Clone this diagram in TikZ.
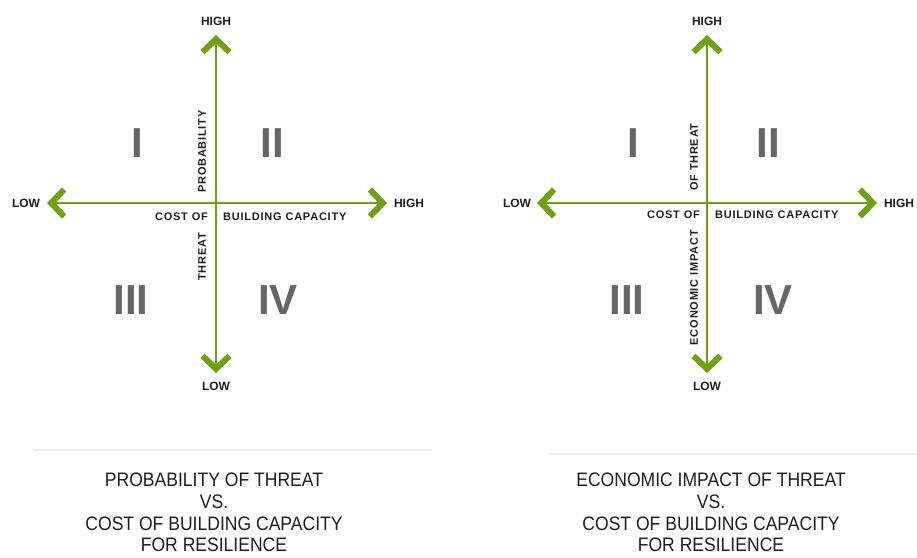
\documentclass[tikz,border=0pt]{standalone}
\usepackage{fontspec}
\setmainfont{Liberation Sans}
\newfontfamily\capfont[FakeStretch=0.9]{Liberation Sans}
\usepackage{xcolor}
\usetikzlibrary{arrows.meta,positioning}
\definecolor{axisgreen}{RGB}{112,160,20}
\definecolor{numgray}{RGB}{102,102,102}
\definecolor{labelgray}{RGB}{30,30,30}
\definecolor{rulegray}{RGB}{236,236,236}

\begin{document}
\begin{tikzpicture}[
    x=1pt, y=-1pt,
    axis/.style={draw=axisgreen, line width=2.5pt,
        >={Straight Barb[length=13pt,width=27pt,line width=6pt]}, <->},
    endlabel/.style={font=\fontsize{12}{14}\selectfont\bfseries, text=labelgray, inner sep=0pt},
    axislabel/.style={font=\fontsize{11}{13}\selectfont\bfseries\addfontfeatures{LetterSpace=7},
        text=labelgray, inner sep=0pt},
    quadrant/.style={font=\fontsize{42}{44}\selectfont\bfseries, text=numgray, inner sep=0pt},
    caption/.style={font=\capfont\fontsize{19.5}{21.7}\selectfont, text=labelgray,
        align=center, inner sep=0pt},
    rule/.style={draw=rulegray, line width=1.5pt}
]
    \useasboundingbox (0,0) rectangle (917,557);

    % left chart: probability
    \coordinate (lN) at (216,35);
    \coordinate (lS) at (216,373);
    \coordinate (lW) at (47,203);
    \coordinate (lE) at (387,203);
    \draw[axis] (lW) -- (lE);
    \draw[axis] (lS) -- (lN);

    \node[endlabel] (lhigh) at (216,21) {HIGH};
    \node[endlabel] (llow) at (216,386) {LOW};
    \node[endlabel] (lleft) at (26,203) {LOW};
    \node[endlabel] (lright) at (409,203) {HIGH};

    \node[axislabel, anchor=east] (lcost) at (208,217) {COST OF};
    \node[axislabel, anchor=west] (lbuild) at (223,217) {BUILDING CAPACITY};
    \node[axislabel, rotate=90, anchor=west] (lprob) at (202,193) {PROBABILITY};
    \node[axislabel, rotate=90, anchor=east] (lthreat) at (202,233) {THREAT};

    \node[quadrant] (lq1) at (137,143) {I};
    \node[quadrant] (lq2) at (272,143) {II};
    \node[quadrant] (lq3) at (131,300) {III};
    \node[quadrant] (lq4) at (278,300) {IV};

    % right chart: economic impact
    \coordinate (rN) at (707,35);
    \coordinate (rS) at (707,373);
    \coordinate (rW) at (537,203);
    \coordinate (rE) at (877,203);
    \draw[axis] (rW) -- (rE);
    \draw[axis] (rS) -- (rN);

    \node[endlabel] (rhigh) at (707,21) {HIGH};
    \node[endlabel] (rlow) at (707,386) {LOW};
    \node[endlabel] (rleft) at (517,203) {LOW};
    \node[endlabel] (rright) at (899,203) {HIGH};

    \node[axislabel, anchor=east] (rcost) at (700,215) {COST OF};
    \node[axislabel, anchor=west] (rbuild) at (715,215) {BUILDING CAPACITY};
    \node[axislabel, rotate=90, anchor=west] (rof) at (694,191) {OF THREAT};
    \node[axislabel, rotate=90, anchor=east] (recon) at (694,230) {ECONOMIC IMPACT};

    \node[quadrant] (rq1) at (633,143) {I};
    \node[quadrant] (rq2) at (768,143) {II};
    \node[quadrant] (rq3) at (627,300) {III};
    \node[quadrant] (rq4) at (773,300) {IV};

    % captions
    \draw[rule] (33,450) -- (432,450);
    \draw[rule] (549,454) -- (917,454);
    \node[caption] (lcap) at (214,512.5) {PROBABILITY OF THREAT\\VS.\\COST OF BUILDING CAPACITY\\FOR RESILIENCE};
    \node[caption] (rcap) at (711,512.5) {ECONOMIC IMPACT OF THREAT\\VS.\\COST OF BUILDING CAPACITY\\FOR RESILIENCE};
\end{tikzpicture}
\end{document}
